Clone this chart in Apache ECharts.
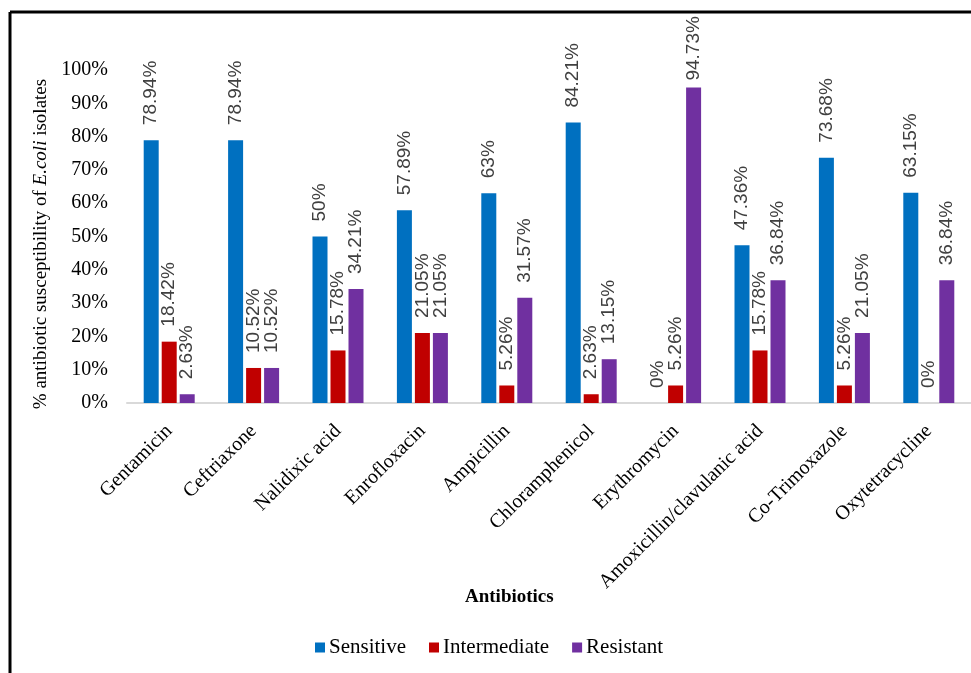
<!DOCTYPE html>
<html>
<head>
<meta charset="utf-8">
<script src="https://cdn.jsdelivr.net/npm/echarts@6/dist/echarts.min.js"></script>
<style>
  html, body { margin: 0; padding: 0; background: #fff; }
  #chart { width: 971px; height: 673px; }
</style>
</head>
<body>
<div id="chart"></div>
<script>
// Antibiotic susceptibility of E. coli isolates (%)
const antibiotics = [
  'Gentamicin', 'Ceftriaxone', 'Nalidixic acid', 'Enrofloxacin', 'Ampicillin',
  'Chloramphenicol', 'Erythromycin', 'Amoxicillin/clavulanic acid', 'Co-Trimoxazole', 'Oxytetracycline'
];
const sensitive    = [78.94, 78.94, 50, 57.89, 63, 84.21, 0, 47.36, 73.68, 63.15];
const intermediate = [18.42, 10.52, 15.78, 21.05, 5.26, 2.63, 5.26, 15.78, 5.26, 0];
const resistant    = [2.63, 10.52, 34.21, 21.05, 31.57, 13.15, 94.73, 36.84, 21.05, 36.84];

const serif = '"Liberation Serif", "Times New Roman", serif';
const sans = '"Liberation Sans", Arial, sans-serif';

// Labels of very tall bars sit closer to the bar so they stay inside the frame.
function withLabelGap(data) {
  return data.map(v => v > 90 ? { value: v, label: { distance: 7 } } : v);
}

function barSeries(name, data, color) {
  return {
    name: name,
    type: 'bar',
    data: withLabelGap(data),
    barWidth: 15,
    barGap: '20%',
    itemStyle: { color: color },
    label: {
      show: true,
      position: 'top',
      rotate: 90,
      align: 'left',
      verticalAlign: 'middle',
      distance: 15,
      fontFamily: sans,
      fontSize: 19,
      color: '#404040',
      formatter: p => p.value + '%'
    }
  };
}

const chart = echarts.init(document.getElementById('chart'));
chart.setOption({
  animation: false,
  backgroundColor: '#fff',
  grid: { left: 127, right: 0, top: 70, bottom: 270 },
  title: {
    text: 'Antibiotics',
    left: 465,
    top: 588,
    padding: 0,
    textStyle: { fontFamily: serif, fontSize: 19, fontWeight: 'bold', color: '#000' }
  },
  legend: {
    data: ['Sensitive', 'Intermediate', 'Resistant'],
    left: 310,
    top: 632,
    icon: 'rect',
    itemWidth: 10,
    itemHeight: 10,
    itemGap: 23,
    textStyle: { fontFamily: serif, fontSize: 21, color: '#000', padding: [0, 0, 0, -1] }
  },
  xAxis: {
    type: 'category',
    data: antibiotics,
    axisLine: { lineStyle: { color: '#d9d9d9', width: 2 } },
    axisTick: { show: false },
    axisLabel: {
      interval: 0,
      rotate: 45,
      margin: 25,
      fontFamily: serif,
      fontSize: 20,
      color: '#000'
    }
  },
  yAxis: {
    type: 'value',
    min: 0,
    max: 100,
    interval: 10,
    name: '% antibiotic susceptibility of {i|E.coli} isolates',
    nameLocation: 'middle',
    nameGap: 72,
    nameTextStyle: {
      fontFamily: serif,
      fontSize: 19,
      color: '#000',
      padding: [0, 15, 0, 0],
      rich: { i: { fontFamily: serif, fontSize: 19, fontStyle: 'italic', color: '#000' } }
    },
    axisLine: { show: false },
    axisTick: { show: false },
    splitLine: { show: false },
    axisLabel: {
      formatter: '{value}%',
      margin: 19,
      fontFamily: serif,
      fontSize: 20,
      color: '#000'
    }
  },
  graphic: [
    { type: 'line', shape: { x1: 10, y1: 12, x2: 10, y2: 673 }, style: { stroke: '#000', lineWidth: 3 } },
    { type: 'line', shape: { x1: 10, y1: 12, x2: 971, y2: 12 }, style: { stroke: '#000', lineWidth: 3 } }
  ],
  series: [
    barSeries('Sensitive', sensitive, '#0070C0'),
    barSeries('Intermediate', intermediate, '#C00000'),
    barSeries('Resistant', resistant, '#7030A0')
  ]
});
</script>
</body>
</html>
